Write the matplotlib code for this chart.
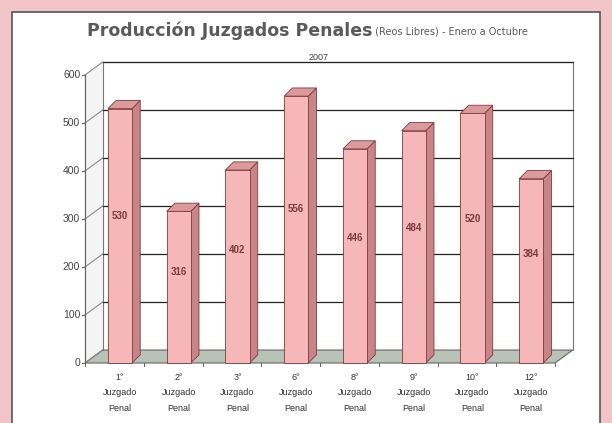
import matplotlib
matplotlib.use("Agg")
import matplotlib.pyplot as plt
from matplotlib.patches import Polygon, Rectangle

plt.rcParams['font.family'] = ['Liberation Sans', 'DejaVu Sans']

# Data
ordinals = ["1°", "2°", "3°", "6°", "8°", "9°", "10°", "12°"]
categories = [f"{o}\nJuzgado\nPenal" for o in ordinals]
values = [530, 316, 402, 556, 446, 484, 520, 384]
y_ticks = [0, 100, 200, 300, 400, 500, 600]

title_main = "Producción Juzgados Penales"
title_sub = " (Reos Libres) - Enero a Octubre"
title_year = "2007"

W, H = 612, 423
fig = plt.figure(figsize=(W / 100, H / 100), dpi=100)
fig.patch.set_facecolor("#f1c5c8")

# white chart panel with a thin border
panel = Rectangle((12 / W, -0.02), (600 - 12) / W, (H - 12) / H + 0.02,
                  transform=fig.transFigure, facecolor="white",
                  edgecolor="#555555", linewidth=1.2, zorder=-5)
fig.patches.append(panel)

# plot area: front plane x in [0, n], y in [0, 600]
n = len(values)
xlim = (-0.1, n + 0.45)
ylim = (-10, 640)
ux = 58.75          # pixels per category
uy = 0.48           # pixels per value unit
x0_px, y0_px = 85, 363
left_px = x0_px + xlim[0] * ux
right_px = x0_px + xlim[1] * ux
bot_px = y0_px - ylim[0] * uy
top_px = y0_px - ylim[1] * uy
ax = fig.add_axes([left_px / W, (H - bot_px) / H,
                   (right_px - left_px) / W, (bot_px - top_px) / H])
ax.set_zorder(2)
ax.set_xlim(*xlim)
ax.set_ylim(*ylim)
ax.axis("off")
ax.patch.set_alpha(0)

# depth of the walls (data units)
dx, dy = 0.3, 27
ymax = y_ticks[-1]

# floor
floor = Polygon([(0, 0), (n, 0), (n + dx, dy), (dx, dy)], closed=True,
                facecolor="#b9c2b6", edgecolor="#666666", linewidth=0.8, zorder=1)
ax.add_patch(floor)

# left side wall (very light)
side_wall = Polygon([(0, 0), (dx, dy), (dx, ymax + dy), (0, ymax)], closed=True,
                    facecolor="#f4f4f4", edgecolor="none", zorder=0.5)
ax.add_patch(side_wall)

# back wall outline and gridlines
ax.plot([dx, dx, n + dx, n + dx], [dy, ymax + dy, ymax + dy, dy],
        color="#777777", linewidth=0.8, zorder=1)
for t in y_ticks[1:]:
    ax.plot([dx, n + dx], [t + dy, t + dy], color="#222222", linewidth=0.9, zorder=1)
for t in y_ticks:
    ax.plot([0, dx], [t, t + dy], color="#888888", linewidth=0.8, zorder=1)

# front-left axis with ticks and labels
ax.plot([0, 0], [0, ymax], color="#666666", linewidth=0.9, zorder=2)
for t in y_ticks:
    ax.plot([-0.05, 0], [t, t], color="#666666", linewidth=0.8, zorder=2)
    ax.text(-0.08, t, str(t), ha="right", va="center", fontsize=7.5,
            color="#444444", zorder=3)

# 3D-style bars
bw = 0.41            # front face width
bdx, bdy = 0.14, 17  # bar depth
off = 0.39
front_c = "#f5b7b8"
side_c = "#c98487"
top_c = "#dc9a9c"
edge_c = "#7d3b3e"
for i, v in enumerate(values):
    x0 = i + off
    x1 = x0 + bw
    side = Polygon([(x1, 0), (x1 + bdx, bdy), (x1 + bdx, v + bdy), (x1, v)],
                   closed=True, facecolor=side_c, edgecolor=edge_c,
                   linewidth=0.6, zorder=4)
    top = Polygon([(x0, v), (x1, v), (x1 + bdx, v + bdy), (x0 + bdx, v + bdy)],
                  closed=True, facecolor=top_c, edgecolor=edge_c,
                  linewidth=0.6, zorder=4)
    front = Rectangle((x0, 0), bw, v, facecolor=front_c, edgecolor=edge_c,
                      linewidth=0.6, zorder=5)
    ax.add_patch(side)
    ax.add_patch(top)
    ax.add_patch(front)
    ax.text((x0 + x1) / 2, v * 0.55 + 15, str(v), ha="center", va="center",
            fontsize=7, color="#7a3a3a", fontweight="bold", zorder=6)

    # category label under the bar
    ax.text((x0 + x1) / 2, -20, categories[i], ha="center", va="top",
            fontsize=6.5, color="#333333", linespacing=1.95, zorder=6,
            clip_on=False)

# category ticks along the floor front edge
for i in range(n + 1):
    ax.plot([i, i], [0, -6], color="#666666", linewidth=0.7, zorder=2)

# title
t1 = fig.text(87 / W, 1 - 31 / H, title_main, ha="left", va="center",
              fontsize=12.5, fontweight="bold", color="#5a5a5a",
              family="DejaVu Sans")
fig.canvas.draw()
bb = t1.get_window_extent()
fig.text(bb.x1 / W, 1 - 32 / H, title_sub, ha="left", va="center",
         fontsize=7, color="#5a5a5a", family="DejaVu Sans")
fig.text(0.52, 1 - 58 / H, title_year, ha="center", va="center",
         fontsize=6.5, color="#444444")

fig.savefig("out.png", dpi=100, facecolor=fig.get_facecolor())
